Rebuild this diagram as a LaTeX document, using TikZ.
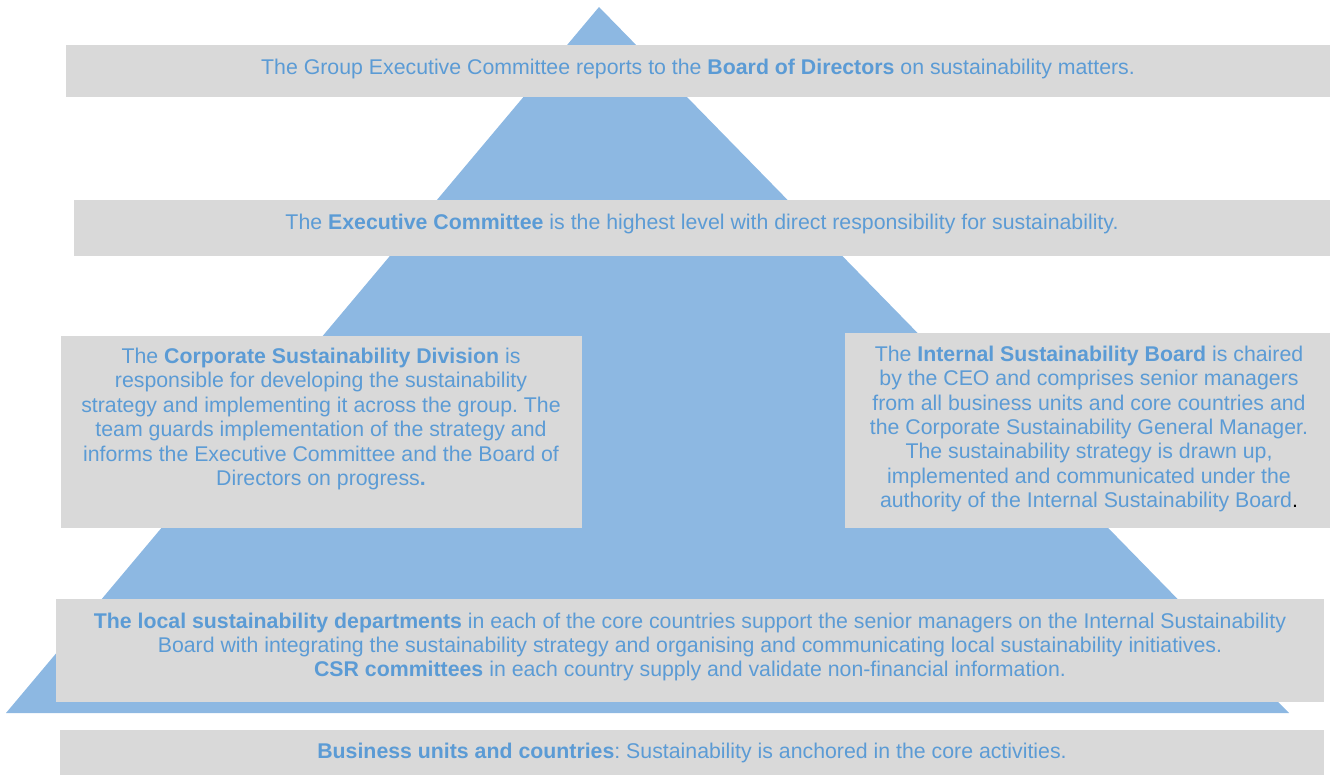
\documentclass[tikz,border=0pt]{standalone}
\usepackage{fontspec}
\setmainfont{Liberation Sans}
\frenchspacing
\definecolor{pyramid}{HTML}{8DB8E2}
\definecolor{panel}{HTML}{D9D9D9}
\definecolor{ink}{HTML}{5B9BD5}
\begin{document}
\begin{tikzpicture}[x=1pt,y=-1pt,
  panelbox/.style={fill=panel, draw=none, inner sep=0pt, outer sep=0pt, anchor=north west},
  label/.style={text=ink, align=center, inner sep=0pt, font=\fontsize{21.3}{24.4}\selectfont}]
\useasboundingbox (0,0) rectangle (1330,774);
% pyramid in the background
\fill[pyramid] (599,7) -- (1289,713) -- (6,713) -- cycle;
% grey panels
\node[panelbox, minimum width=1264pt, minimum height=52pt] (gec) at (66,45) {};
\node[panelbox, minimum width=1256pt, minimum height=56pt] (ec) at (74,200) {};
\node[panelbox, minimum width=521pt, minimum height=192pt] (csd) at (61,336) {};
\node[panelbox, minimum width=485pt, minimum height=195pt] (isb) at (845,333) {};
\node[panelbox, minimum width=1268pt, minimum height=103pt] (lsd) at (56,599) {};
\node[panelbox, minimum width=1264pt, minimum height=50pt] (bu) at (60,730) {};
% panel texts
\node[label] (gect) at ([yshift=2pt]gec.center) {The Group Executive Committee reports to the \textbf{Board of Directors} on sustainability matters.};
\node[label] (ect) at ([yshift=4pt]ec.center) {The \textbf{Executive Committee} is the highest level with direct responsibility for sustainability.};
\node[label] (csdt) at (321,419) {The \textbf{Corporate Sustainability Division} is\\
responsible for developing the sustainability\\
strategy and implementing it across the group. The\\
team guards implementation of the strategy and\\
informs the Executive Committee and the Board of\\
Directors on progress\textbf{.}};
\node[label] (isbt) at (1089,429) {The \textbf{Internal Sustainability Board} is chaired\\
by the CEO and comprises senior managers\\
from all business units and core countries and\\
the Corporate Sustainability General Manager.\\
The sustainability strategy is drawn up,\\
implemented and communicated under the\\
authority of the Internal Sustainability Board\textcolor{black}{.}};
\node[label] (lsdt) at (690,647) {\textbf{The local sustainability departments} in each of the core countries support the senior managers on the Internal Sustainability\\
Board with integrating the sustainability strategy and organising and communicating local sustainability initiatives.\\
\textbf{CSR committees} in each country supply and validate non-financial information.};
\node[label] (but) at (692,753) {\textbf{Business units and countries}: Sustainability is anchored in the core activities.};
\end{tikzpicture}
\end{document}
